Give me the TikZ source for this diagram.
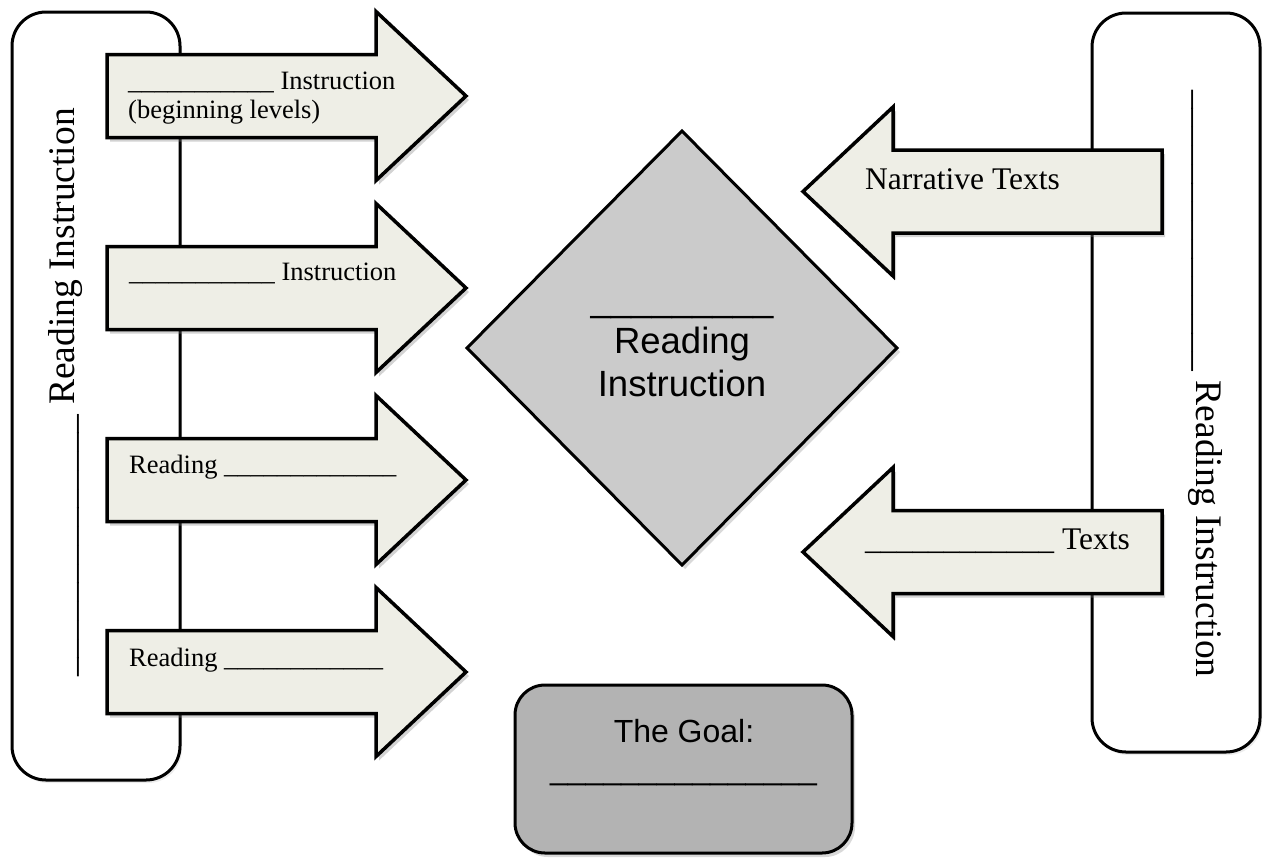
\documentclass[tikz,border=0pt]{standalone}
\usepackage{fontspec}
\setmainfont{Liberation Serif}
\newfontfamily\headfont{Liberation Sans}
\usetikzlibrary{shadows}
\definecolor{arrowfill}{HTML}{EEEEE6}
\definecolor{diafill}{HTML}{CBCBCB}
\definecolor{goalfill}{HTML}{B3B3B3}
\newcommand{\blank}[1]{\foreach\k in {1,...,#1}{\_}}

\begin{document}
\begin{tikzpicture}
      [x=1pt,y=-1pt
      ,frame/.style={draw,line width=3pt,fill=white,rounded corners=34pt,
                     drop shadow={shadow xshift=2pt,shadow yshift=-3pt,opacity=.15}}
      ,arr/.style={draw,line width=3.5pt,fill=arrowfill,
                   drop shadow={shadow xshift=3pt,shadow yshift=-4pt,opacity=.35}}
      ,diabox/.style={draw,line width=3pt,fill=diafill,
                      drop shadow={shadow xshift=3pt,shadow yshift=-4pt,opacity=.3}}
      ,goalbox/.style={draw,line width=3pt,fill=goalfill,rounded corners=30pt,
                       drop shadow={shadow xshift=3pt,shadow yshift=-4pt,opacity=.3}}
      ,small/.style={font=\fontsize{26.5}{30}\selectfont,inner sep=0,anchor=base west}
      ,mid/.style={font=\fontsize{31.5}{36}\selectfont,inner sep=0,anchor=base west}
      ,side/.style={font=\fontsize{37.5}{42}\selectfont,inner sep=0,anchor=base west}
      ,sans/.style={font=\headfont\fontsize{36.5}{42}\selectfont,inner sep=0,anchor=base}
      ,goaltext/.style={font=\headfont\fontsize{32}{37}\selectfont,inner sep=0,anchor=base}]
        \useasboundingbox (0,0) rectangle (1266,857);
        \coordinate (L1) at (107,96);
        \coordinate (L2) at (107,288);
        \coordinate (L3) at (107,480);
        \coordinate (L4) at (107,672);
        \coordinate (R1) at (1162,191.5);
        \coordinate (R2) at (1162,552);
        \coordinate (D) at (682,348);
        % side frames
        \draw[frame] (12,12) rectangle (180,780);
        \draw[frame] (1092,13) rectangle (1260,752);
        % centre diamond and goal
        \draw[diabox] (D) +(-215,0) -- +(0,-217) -- +(215,0) -- +(0,217) -- cycle;
        \draw[goalbox] (515,685) rectangle (852,853);
        % block arrows
        \foreach \c/\s in {L1/1,L2/1,L3/1,L4/1,R1/-1,R2/-1}{
          \draw[arr] (\c) ++(0,-41.5) -- ++(\s*269,0) -- ++(0,-43)
                     -- ++(\s*90,84.5) -- ++(\s*-90,84.5) -- ++(0,-43)
                     -- ++(\s*-269,0) -- cycle;
        }
        % texts
        \node[small] (a1)  at (128,89)  {\blank{11} Instruction};
        \node[small] (a1b) at (128,118) {(beginning levels)};
        \node[small] (a2)  at (129,280) {\blank{11} Instruction};
        \node[small] (a3)  at (129,473) {Reading \blank{13}};
        \node[small] (a4)  at (129,666) {Reading \blank{12}};
        \node[mid] (n1) at (865,189) {Narrative Texts};
        \node[mid] (n2) at (865,549) {\blank{12} Texts};
        \node[side,rotate=90]  (lside) at (74,677)  {\blank{14} Reading Instruction};
        \node[side,rotate=-90] (rside) at (1196,90) {\blank{15} Reading Instruction};
        \node[sans] (d1) at (682,311) {\blank{9}};
        \node[sans] (d2) at (682,353) {Reading};
        \node[sans] (d3) at (682,396) {Instruction};
        \node[goaltext] (g1) at (684,742) {The Goal:};
        \node[goaltext] (g2) at (683.5,779) {\blank{15}};
      \end{tikzpicture}
\end{document}
